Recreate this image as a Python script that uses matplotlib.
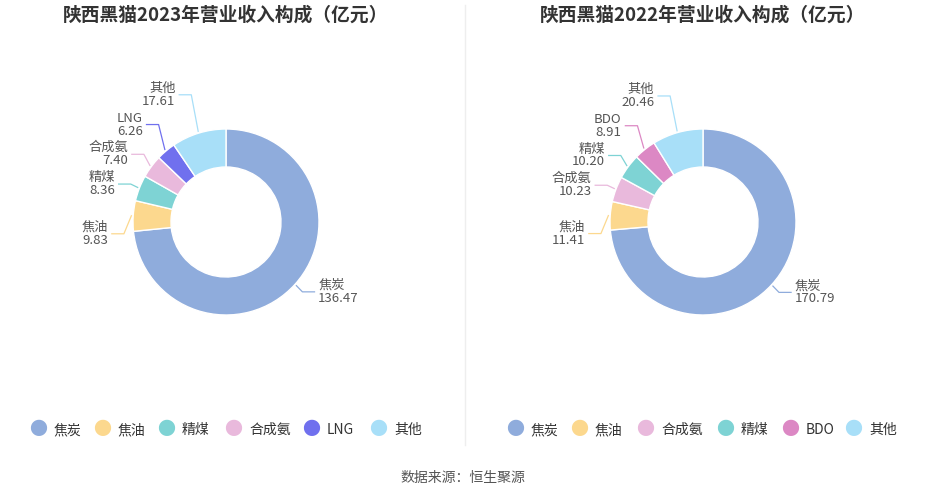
import matplotlib
matplotlib.use("Agg")
import matplotlib.pyplot as plt
import numpy as np

plt.rcParams['font.family'] = ['Noto Sans CJK SC', 'DejaVu Sans']

titles = ["陕西黑猫2023年营业收入构成（亿元）", "陕西黑猫2022年营业收入构成（亿元）"]
cats_2023 = ["焦炭", "焦油", "精煤", "合成氨", "LNG", "其他"]
vals_2023 = [136.47, 9.83, 8.36, 7.40, 6.26, 17.61]
cats_2022 = ["焦炭", "焦油", "合成氨", "精煤", "BDO", "其他"]
vals_2022 = [170.79, 11.41, 10.23, 10.20, 8.91, 20.46]
colors = {"焦炭": "#8FACDC", "焦油": "#FCD88E", "精煤": "#7ED3D4", "合成氨": "#E9B9DC",
          "LNG": "#7070EE", "BDO": "#DC88C4", "其他": "#A8DFF8"}

W, H = 927, 500
fig = plt.figure(figsize=(W/100, H/100), dpi=100)
fig.patch.set_facecolor("white")
R = 93

def donut(cx, cats, vals, title, tx):
    cy = 222
    half = 1.7
    size = 2*half*R
    ax = fig.add_axes([(cx-size/2)/W, 1-(cy+size/2)/H, size/W, size/H])
    wedges, _ = ax.pie(vals, colors=[colors[c] for c in cats], startangle=90, counterclock=False,
                       radius=1, wedgeprops=dict(width=1-55/93, edgecolor='white', linewidth=1))
    ax.set_xlim(-half, half); ax.set_ylim(-half, half); ax.set_aspect('equal'); ax.axis('off')
    items = []
    for w, c, v in zip(wedges, cats, vals):
        ang = np.deg2rad((w.theta1+w.theta2)/2)
        x, y = np.cos(ang), np.sin(ang)
        items.append([c, v, x, y, 1.12*y, w.get_facecolor()])
    left = sorted([i for i in items if i[2] < 0], key=lambda i: i[4])
    if left:
        left[0][4] = left[0][4] - 0.2
    for k in range(1, len(left)):
        if left[k][4] - left[k-1][4] < 0.32:
            left[k][4] = left[k-1][4] + 0.32
    for c, v, x, y, ly, col in items:
        s = 1 if x >= 0 else -1
        ex, ey = 1.02*x, 1.02*y
        mx = s*max(abs(1.1*x), abs(x)+0.08)
        lx = mx + s*0.13
        ax.plot([ex, mx, lx], [ey, ly, ly], color=col, lw=0.9)
        ax.text(lx + s*0.04, ly, f"{c}\n{v:.2f}", ha='left' if s > 0 else 'right', va='center',
                fontsize=9.5, color="#555555", linespacing=1.0)
    fig.text(tx/W, 1-15/H, title, ha='center', va='center', fontsize=13.5, fontweight='bold', color="#333333")
    return ax

donut(226, cats_2023, vals_2023, titles[0], 226)
donut(703, cats_2022, vals_2022, titles[1], 703)

def legend(cats, xs):
    for c, x in zip(cats, xs):
        fig.text(x/W, 1-430/H, "●", color=colors[c], ha='center', va='center', fontsize=13)
        fig.text((x+16)/W, 1-430/H, c, color="#333333", ha='left', va='center', fontsize=10)

legend(cats_2023, [38, 102, 166, 233, 311, 378])
legend(cats_2022, [515, 579, 645, 725, 790, 853])

fig.add_artist(plt.Line2D([465/W, 465/W], [1-5/H, 1-445/H], color="#EEEEEE", lw=1))
fig.text(463/W, 1-478/H, "数据来源：恒生聚源", ha='center', va='center', fontsize=10, color="#555555")
fig.savefig("out.png", dpi=100)
